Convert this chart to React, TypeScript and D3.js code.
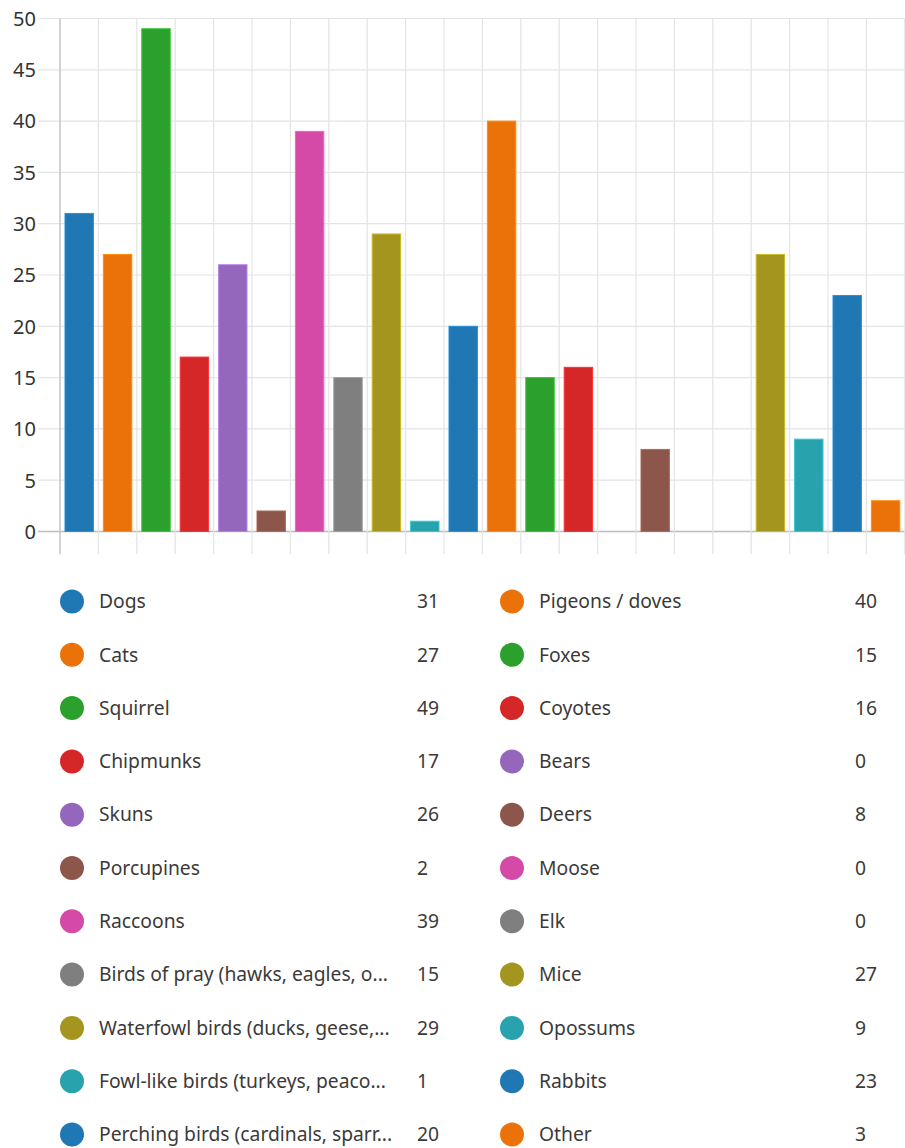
import React from "react";
import * as d3 from "d3";

const categories = [
  "Dogs", "Cats", "Squirrel", "Chipmunks", "Skuns", "Porcupines", "Raccoons",
  "Birds of pray (hawks, eagles, o...", "Waterfowl birds (ducks, geese,...",
  "Fowl-like birds (turkeys, peaco...", "Perching birds (cardinals, sparr...",
  "Pigeons / doves", "Foxes", "Coyotes", "Bears", "Deers", "Moose", "Elk",
  "Mice", "Opossums", "Rabbits", "Other",
];
const values = [31, 27, 49, 17, 26, 2, 39, 15, 29, 1, 20, 40, 15, 16, 0, 8, 0, 0, 27, 9, 23, 3];
const palette = [
  "#1f77b4", "#eb7209", "#2ca02c", "#d62728", "#9467bd",
  "#8c564b", "#d44aa6", "#7f7f7f", "#a3951e", "#28a2ad",
];
const yTicks = [0, 5, 10, 15, 20, 25, 30, 35, 40, 45, 50];

const W = 905;
const H = 1148;
const FONT = "'Segoe UI', 'Noto Sans', 'Open Sans', sans-serif";

export default function App() {
  const x = d3.scaleBand<number>()
    .domain(d3.range(categories.length))
    .range([60, 60 + 38.4 * categories.length])
    .paddingInner(0.26)
    .paddingOuter(0.13);
  const xGrid = d3.scaleLinear().domain([0, categories.length]).range([60, 60 + 38.4 * categories.length]);
  const y = d3.scaleLinear().domain([0, 50]).range([531.5, 18.5]);
  const color = (i: number) => palette[i % palette.length];

  const half = Math.ceil(categories.length / 2);
  const rowY = (r: number) => 601.5 + r * 53.3;

  return (
    <svg width={W} height={H} style={{ position: "absolute", left: 0, top: 0, background: "#fff" }}
      fontFamily={FONT}>
      {/* horizontal grid */}
      {yTicks.map((t) => (
        <line key={"h" + t} x1={38} x2={W} y1={y(t)} y2={y(t)}
          stroke={t === 0 ? "#bdbdbd" : "#e4e4e4"} strokeWidth={t === 0 ? 1.5 : 1.2} />
      ))}
      {/* vertical grid */}
      {d3.range(categories.length + 1).map((i) => (
        <line key={"v" + i} x1={xGrid(i)} x2={xGrid(i)} y1={y(50)} y2={554}
          stroke={i === 0 ? "#c4c4c4" : "#e4e4e4"} strokeWidth={i === 0 ? 1.5 : 1.2} />
      ))}
      {/* y labels */}
      {yTicks.map((t) => (
        <text key={"l" + t} x={36} y={y(t)} dy="0.1em" textAnchor="end" fontSize={20}
          fill="#333" dominantBaseline="middle">{t}</text>
      ))}
      {/* bars */}
      {values.map((v, i) => (
        <rect key={"b" + i} x={x(i)} width={x.bandwidth()} y={y(v)} height={y(0) - y(v)}
          fill={color(i)} stroke={d3.color(color(i))!.brighter(0.6).toString()} strokeWidth={1} />
      ))}
      {/* legend */}
      {categories.map((c, i) => {
        const col = i < half ? 0 : 1;
        const r = i < half ? i : i - half;
        const cx = col === 0 ? 72 : 512;
        const cy = rowY(r);
        return (
          <g key={"lg" + i}>
            <circle cx={cx} cy={cy} r={12} fill={color(i)} />
            <text x={cx + 27} y={cy} dy="0.35em" fontSize={19.3} fill="#3b3a39">{c}</text>
            <text x={col === 0 ? 417 : 855} y={cy} dy="0.35em" fontSize={19.3} fill="#3b3a39">{values[i]}</text>
          </g>
        );
      })}
    </svg>
  );
}
